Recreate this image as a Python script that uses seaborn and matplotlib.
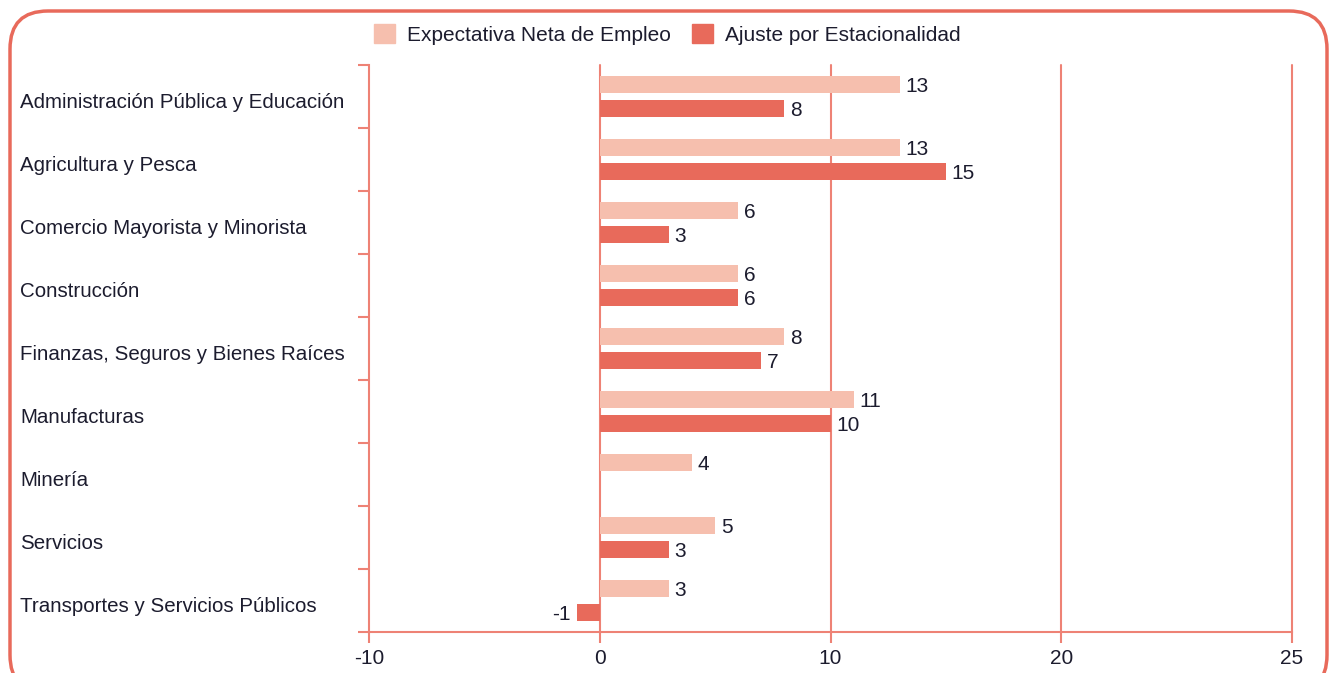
import numpy as np
import pandas as pd
import seaborn as sns
import matplotlib.pyplot as plt
from matplotlib.patches import FancyBboxPatch
from matplotlib.transforms import IdentityTransform, blended_transform_factory, offset_copy

# values
sectores = ["Administración Pública y Educación", "Agricultura y Pesca",
            "Comercio Mayorista y Minorista", "Construcción",
            "Finanzas, Seguros y Bienes Raíces", "Manufacturas", "Minería",
            "Servicios", "Transportes y Servicios Públicos"]
expectativa = [13, 13, 6, 6, 8, 11, 4, 5, 3]
ajuste = [8, 15, 3, 6, 7, 10, np.nan, 3, -1]
series = ["Expectativa Neta de Empleo", "Ajuste por Estacionalidad"]
# the original axis is evenly spaced but its last tick is labelled 25
xticks = [-10, 0, 10, 20, 30]
xticklabels = ["-10", "0", "10", "20", "25"]

light = "#f6bfae"
dark = "#e86a5b"
line_c = "#ee8275"
text_c = "#1c1c2e"

df = pd.DataFrame({
    "sector": sectores * 2,
    "valor": expectativa + ajuste,
    "serie": [series[0]] * len(sectores) + [series[1]] * len(sectores),
})

sns.set_style("white")
plt.rcParams['font.family'] = ['Liberation Sans', 'DejaVu Sans']
plt.rcParams['text.color'] = text_c
plt.rcParams['axes.unicode_minus'] = False

fig = plt.figure(figsize=(13.35, 6.73), dpi=100)
ax = fig.add_axes([0.2764, 0.0609, 0.6914, 0.8425])

sns.barplot(data=df, y="sector", x="valor", hue="serie", orient="h",
            palette=[light, dark], saturation=1, width=0.76, gap=0.3,
            linewidth=0, ax=ax, legend=True)

for cont in ax.containers:
    labels = ["" if np.isnan(v) else f"{v:g}" for v in cont.datavalues]
    texts = ax.bar_label(cont, labels=labels, padding=4, fontsize=15, color=text_c)
    for t in texts:
        t.xyann = (t.xyann[0], -1.5)

ax.set_xlim(xticks[0], xticks[-1])
ax.set_ylim(len(sectores) - 0.5, -0.5)
ax.set_xticks(xticks, xticklabels)
ax.set_xlabel("")
ax.set_ylabel("")

# grid + spines
for x in xticks[1:]:
    ax.axvline(x, color=line_c, lw=1.5, zorder=0, clip_on=False)
for s in ["top", "right"]:
    ax.spines[s].set_visible(False)
for s in ["left", "bottom"]:
    ax.spines[s].set_color(line_c)
    ax.spines[s].set_linewidth(1.5)

# ticks between the categories, category names left-aligned near the border
ax.set_yticks(np.arange(-0.5, len(sectores)), minor=True)
ax.tick_params(axis="y", which="major", left=False, labelleft=False)
ax.tick_params(axis="y", which="minor", left=True, length=8, width=1.5, color=line_c)
ax.tick_params(axis="x", bottom=True, length=8, width=1.5, color=line_c, labelsize=15,
               labelcolor=text_c, pad=4)

name_tr = offset_copy(blended_transform_factory(fig.transFigure, ax.transData),
                      fig=fig, y=-6, units="dots")
for i, name in enumerate(sectores):
    ax.text(20 / 1335, i, name, transform=name_tr, ha="left", va="center",
            fontsize=14.8, color=text_c)

ax.legend_.remove()
handles = [plt.Rectangle((0, 0), 1, 1, color=c) for c in (light, dark)]
fig.legend(handles, series, loc="center", bbox_to_anchor=(0.5, 0.949), ncol=2,
           frameon=False, fontsize=15, handlelength=1.0, handleheight=1.0,
           columnspacing=1.0, handletextpad=0.6)

# rounded border
border = FancyBboxPatch((10, -20), 1317, 682, boxstyle="round,pad=0,rounding_size=38",
                        transform=IdentityTransform(), fill=False, ec=dark, lw=2.5)
fig.patches.append(border)

fig.savefig("out.png", dpi=100)
